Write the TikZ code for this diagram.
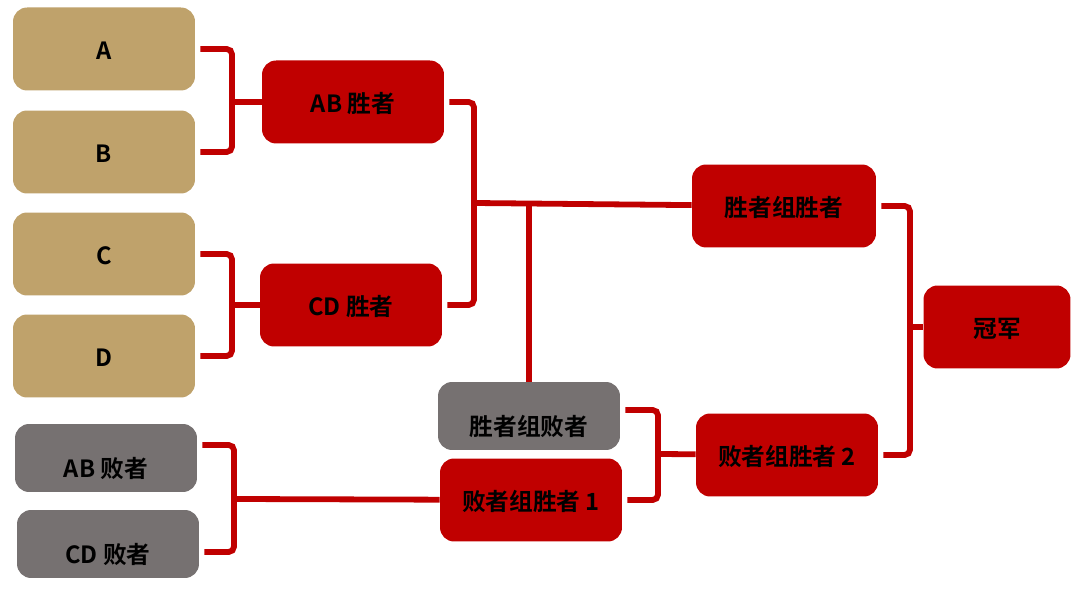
\documentclass[tikz,border=0pt]{standalone}
\usepackage{fontspec}
\setmainfont{Noto Sans CJK SC}[BoldFont={* Bold}]
\usetikzlibrary{calc}
\definecolor{seedtan}{HTML}{BFA26B}
\definecolor{winred}{HTML}{C00000}
\definecolor{losegray}{HTML}{767171}
\tikzset{
  box/.style={rectangle, rounded corners=8pt, inner sep=0pt, minimum width=3.64cm,
    minimum height=1.66cm, text height=0.48cm, text depth=0.05cm,
    font=\fontsize{13.5}{15}\selectfont\bfseries},
  seed/.style={box, fill=seedtan},
  win/.style={box, fill=winred},
  lose/.style={box, fill=losegray, minimum height=1.36cm, text height=0.84cm},
  link/.style={draw=winred, line width=3.3pt, rounded corners=3pt}
}
\begin{document}
\begin{tikzpicture}[x=0.02cm, y=-0.02cm]
          \useasboundingbox (0,0) rectangle (1083,590);
          % first round
          \node at (104, 49) [seed] (A) {A};
          \node at (104, 152) [seed] (B) {B};
          \node at (104, 254) [seed] (C) {C};
          \node at (104, 356) [seed] (D) {D};
          \node at (106, 458) [lose] (ABl) {AB 败者};
          \node at (108, 544) [lose] (CDl) {CD 败者};

          % winners and losers
          \node at (353, 102) [win] (ABw) {AB 胜者};
          \node at (351, 305) [win] (CDw) {CD 胜者};
          \node at (784, 206) [win, minimum width=3.68cm] (WW) {胜者组胜者};
          \node at (529, 416) [lose] (WL) {胜者组败者};
          \node at (531, 500) [win] (L1) {败者组胜者 1};
          \node at (787, 455) [win] (L2) {败者组胜者 2};
          \node at (997, 327) [win, minimum width=2.94cm] (Champ) {冠军};

          % spines of the brackets
          \coordinate (ab) at (232, 102);
          \coordinate (cd) at (232, 305);
          \coordinate (abl) at (234, 499);
          \coordinate (wq) at (474, 203);
          \coordinate (fin) at (910, 327);
          \coordinate (lq) at (658, 454);

          \foreach \up / \ua / \down / \da / \mid / \next in
            {A/0/B/0/ab/ABw, C/0/D/0/cd/CDw, ABl/0.26/CDl/-0.16/abl/L1,
             ABw/0/CDw/0/wq/WW, WW/0/L2/0/fin/Champ, WL/0.12/L1/0/lq/L2} {
            \draw[link] ($ (\up.east) + (0.1cm, \ua cm) $) -| (\mid)
              |- ($ (\down.east) + (0.1cm, \da cm) $);
            \draw[link] (\mid) -- (\next);
          }
          \draw[link] (WL.north) -- (WL.north |- wq);
        \end{tikzpicture}
\end{document}
